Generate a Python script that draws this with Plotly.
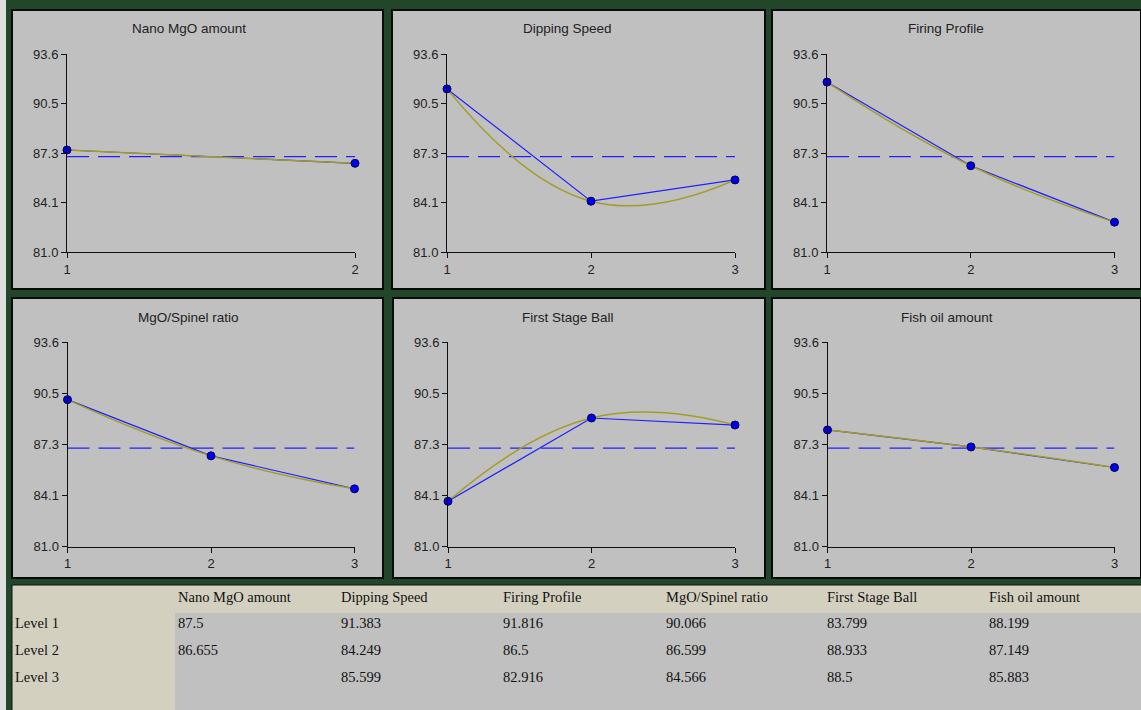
import numpy as np
import plotly.graph_objects as go

# ---------------- data ----------------
FACTORS = ["Nano MgO amount", "Dipping Speed", "Firing Profile",
           "MgO/Spinel ratio", "First Stage Ball", "Fish oil amount"]
nano_mgo = [87.5, 86.655]
dipping_speed = [91.383, 84.249, 85.599]
firing_profile = [91.816, 86.5, 82.916]
mgo_spinel = [90.066, 86.599, 84.566]
first_stage_ball = [83.799, 88.933, 88.5]
fish_oil = [88.199, 87.149, 85.883]
SERIES = [nano_mgo, dipping_speed, firing_profile, mgo_spinel, first_stage_ball, fish_oil]
LEVEL_LABELS = ["Level 1", "Level 2", "Level 3"]
Y_TICK_VALS = [81.0, 84.15, 87.3, 90.45, 93.6]
Y_TICK_TEXT = ["81.0", "84.1", "87.3", "90.5", "93.6"]
Y_RANGE = [81.0, 93.6]

W, H = 1141, 710
GREEN = "#21462a"
PANEL = "#c0c0c0"
BEIGE = "#d4d0c0"
BLUE = "#2020ff"
OLIVE = "#a39c2c"

def px(x):
    return x / W

def py(y):
    return 1 - y / H

# panel rectangles (pixel coords) and axis boxes
panels = [(12, 10, 383, 289), (392, 10, 765, 289), (772, 10, 1141, 289),
          (12, 298, 383, 578), (393, 298, 765, 578), (772, 298, 1141, 578)]
axes_x = [(67, 355), (447, 735), (827, 1114.5), (67.5, 354.5), (448, 735), (827.5, 1114.5)]
axes_y = [(54, 252.3), (54, 252.3), (54, 252.3), (342.3, 546.7), (342.3, 546.7), (342.3, 546.7)]
title_pos = [(189, 29), (567, 29), (946, 29), (188, 317), (568, 317), (947, 317)]

fig = go.Figure()
shapes = []
annotations = []

# light strip at far left
shapes.append(dict(type="rect", xref="paper", yref="paper", x0=0, x1=px(6), y0=0, y1=1,
                   fillcolor="#dedede", line=dict(width=0), layer="below"))

for i, (name, vals) in enumerate(zip(FACTORS, SERIES)):
    x0p, y0p, x1p, y1p = panels[i]
    shapes.append(dict(type="rect", xref="paper", yref="paper",
                       x0=px(x0p), x1=px(x1p), y0=py(y1p), y1=py(y0p),
                       fillcolor=PANEL, line=dict(color="#0a0a0a", width=2), layer="below"))
    ax = "" if i == 0 else str(i + 1)
    xa, ya = "x" + ax, "y" + ax
    n = len(vals)
    levels = list(range(1, n + 1))
    mean = float(np.mean(vals))
    # grand-mean dashed line
    fig.add_trace(go.Scatter(x=[1, n], y=[mean, mean], mode="lines", xaxis=xa, yaxis=ya,
                             line=dict(color=BLUE, width=1.2, dash="22px,9px"),
                             showlegend=False, hoverinfo="skip", cliponaxis=False))
    # blue straight line
    fig.add_trace(go.Scatter(x=levels, y=vals, mode="lines", xaxis=xa, yaxis=ya,
                             line=dict(color=BLUE, width=1.2),
                             showlegend=False, cliponaxis=False))
    # olive smooth curve
    fig.add_trace(go.Scatter(x=levels, y=vals, mode="lines", xaxis=xa, yaxis=ya,
                             line=dict(color=OLIVE, width=1.5, shape="spline", smoothing=1.3),
                             showlegend=False, cliponaxis=False))
    # markers
    fig.add_trace(go.Scatter(x=levels, y=vals, mode="markers", xaxis=xa, yaxis=ya,
                             marker=dict(color="#0000ee", size=8, line=dict(color="#000050", width=1)),
                             showlegend=False, cliponaxis=False))
    axx0, axx1 = axes_x[i]
    ayy0, ayy1 = axes_y[i]
    common = dict(showline=True, linecolor="#111111", linewidth=1, ticks="outside",
                  tickcolor="#111111", ticklen=5, showgrid=False, zeroline=False,
                  tickfont=dict(family="Liberation Sans, Arial", size=13, color="#222222"),
                  fixedrange=True, automargin=False)
    fig.layout["xaxis" + ax] = dict(domain=[px(axx0), px(axx1)], range=[1, n],
                                    tickvals=levels, ticktext=[str(l) for l in levels],
                                    anchor=ya, **common)
    fig.layout["yaxis" + ax] = dict(domain=[py(ayy1), py(ayy0)], range=Y_RANGE,
                                    tickvals=Y_TICK_VALS, ticktext=Y_TICK_TEXT,
                                    anchor=xa, **common)
    tx, ty = title_pos[i]
    annotations.append(dict(text=name, x=px(tx), y=py(ty), xref="paper", yref="paper",
                            showarrow=False, xanchor="center", yanchor="middle",
                            font=dict(family="Liberation Sans, Arial", size=13.5, color="#222222")))

# ---------------- table ----------------
TABLE_TOP, HEADER_BOT, LEFT_COL = 585, 613, 175
shapes.append(dict(type="rect", xref="paper", yref="paper", x0=px(12), x1=1.01,
                   y0=-0.01, y1=py(TABLE_TOP), fillcolor=BEIGE,
                   line=dict(color="#101010", width=1), layer="below"))
shapes.append(dict(type="rect", xref="paper", yref="paper", x0=px(LEFT_COL), x1=1.01,
                   y0=-0.01, y1=py(HEADER_BOT), fillcolor=PANEL,
                   line=dict(width=0), layer="below"))

col_x = [176, 339, 501, 664, 825, 987]
row_y = [623, 650, 677]
tfont = dict(family="Liberation Serif, Times New Roman", size=14.5, color="#111111")
for j, name in enumerate(FACTORS):
    annotations.append(dict(text=name, x=px(col_x[j]), y=py(597), xref="paper", yref="paper",
                            showarrow=False, xanchor="left", yanchor="middle", font=tfont))
    for k, v in enumerate(SERIES[j]):
        annotations.append(dict(text=f"{v:g}", x=px(col_x[j]), y=py(row_y[k]), xref="paper",
                                yref="paper", showarrow=False, xanchor="left",
                                yanchor="middle", font=tfont))
for k, lab in enumerate(LEVEL_LABELS):
    annotations.append(dict(text=lab, x=px(13), y=py(row_y[k]), xref="paper", yref="paper",
                            showarrow=False, xanchor="left", yanchor="middle", font=tfont))

fig.update_layout(width=W, height=H, margin=dict(l=0, r=0, t=0, b=0, pad=0, autoexpand=False),
                  paper_bgcolor=GREEN, plot_bgcolor="rgba(0,0,0,0)",
                  shapes=shapes, annotations=annotations, showlegend=False)

fig.write_html("out.html", config={"displayModeBar": False},
               post_script="document.documentElement.style.margin='0';document.body.style.margin='0';"
                           "document.body.style.padding='0';document.body.style.overflow='hidden';")
